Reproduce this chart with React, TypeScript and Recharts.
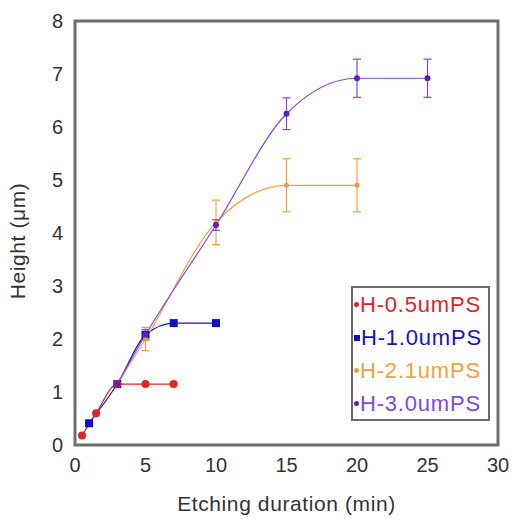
import React from 'react';
import {
  LineChart, Line, XAxis, YAxis, ErrorBar, ReferenceArea, Label,
} from 'recharts';

const redX = [0.5, 1.5, 3, 5, 7];
const redY = [0.18, 0.6, 1.15, 1.15, 1.15];

const blueX = [1, 3, 5, 7, 10];
const blueY = [0.41, 1.15, 2.08, 2.3, 2.3];

const orangeX = [3, 5, 10, 15, 20];
const orangeY = [1.15, 2.0, 4.2, 4.9, 4.9];
const orangeErr = [0, 0.22, 0.42, 0.5, 0.5];

const purpleX = [3, 5, 10, 15, 20, 25];
const purpleY = [1.15, 2.08, 4.15, 6.25, 6.92, 6.92];
const purpleErr = [0, 0.1, 0.1, 0.3, 0.36, 0.36];

const xTicks = [0, 5, 10, 15, 20, 25, 30];
const yTicks = [0, 1, 2, 3, 4, 5, 6, 7, 8];

const seriesNames = ['H-0.5umPS', 'H-1.0umPS', 'H-2.1umPS', 'H-3.0umPS'];
const colors = ['#e02424', '#1414c8', '#f2a040', '#8048e0'];
const markerColors = ['#e02424', '#1010c0', '#f09a30', '#5a20b8'];

const build = (xs: number[], ys: number[], errs?: number[]) =>
  xs.map((x, i) => ({ x, y: ys[i], err: errs ? errs[i] : 0 }));

const redData = build(redX, redY);
const blueData = build(blueX, blueY);
const orangeData = build(orangeX, orangeY, orangeErr);
const purpleData = build(purpleX, purpleY, purpleErr);

const FONT = '"Liberation Sans", Arial, sans-serif';

const circleDot = (r: number, fill: string) => (props: any) => {
  const { cx, cy, index } = props;
  if (cx == null || cy == null) return <g key={index} />;
  return <circle key={index} cx={cx} cy={cy} r={r} fill={fill} stroke="none" />;
};

const squareDot = (s: number, fill: string) => (props: any) => {
  const { cx, cy, index } = props;
  if (cx == null || cy == null) return <g key={index} />;
  return <rect key={index} x={cx - s / 2} y={cy - s / 2} width={s} height={s} fill={fill} stroke="none" />;
};

const LegendBox = () => (
  <div
    style={{
      position: 'absolute',
      left: 351,
      top: 286,
      width: 134,
      height: 131,
      border: '2px solid #6a6a6a',
      background: '#fff',
      padding: '0 0 0 1px',
      fontFamily: FONT,
      fontSize: 22,
      letterSpacing: 0.8,
      lineHeight: '33px',
      whiteSpace: 'nowrap',
    }}
  >
    {seriesNames.map((n, i) => (
      <div key={n} style={{ color: colors[i], display: 'flex', alignItems: 'center', height: 33 }}>
        <span
          style={{
            display: 'inline-block',
            width: i === 1 ? 6 : 5,
            height: i === 1 ? 6 : 5,
            borderRadius: i === 1 ? 0 : '50%',
            background: markerColors[i],
            marginRight: 1,
          }}
        />
        {n}
      </div>
    ))}
  </div>
);

export default function App() {
  return (
    <div style={{ position: 'absolute', left: 0, top: 0, width: 514, height: 519, background: '#fff' }}>
      <LineChart
        width={514}
        height={519}
        margin={{ top: 21, right: 16, bottom: 0, left: 0 }}
        style={{ fontFamily: FONT }}
      >
        <XAxis
          dataKey="x"
          type="number"
          domain={[0, 30]}
          ticks={xTicks}
          allowDuplicatedCategory={false}
          height={74}
          tickSize={0}
          tickMargin={13}
          axisLine={false}
          tickLine={false}
          tick={{ fontSize: 20, fill: '#333' }}
        >
          <Label value="Etching duration (min)" position="insideBottom" offset={8} style={{ fontSize: 21, fill: '#333', letterSpacing: 0.6 }} />
        </XAxis>
        <YAxis
          type="number"
          domain={[0, 8]}
          ticks={yTicks}
          width={75}
          tickSize={0}
          tickMargin={12}
          axisLine={false}
          tickLine={false}
          tick={{ fontSize: 20, fill: '#333' }}
        >
          <Label value="Height (μm)" angle={-90} position="center" dx={-20} dy={8} style={{ fontSize: 21, fill: '#333', textAnchor: 'middle', letterSpacing: 0.6 }} />
        </YAxis>
        <ReferenceArea x1={0} x2={30} y1={0} y2={8} fill="none" stroke="#6e6e6e" strokeWidth={3} ifOverflow="visible" />

        <Line
          data={blueData}
          dataKey="y"
          name={seriesNames[1]}
          type="monotone"
          stroke={colors[1]}
          strokeWidth={1.2}
          dot={squareDot(8, markerColors[1])}
          isAnimationActive={false}
        />
        <Line
          data={redData}
          dataKey="y"
          name={seriesNames[0]}
          type="monotone"
          stroke={colors[0]}
          strokeWidth={1.2}
          dot={circleDot(4, markerColors[0])}
          isAnimationActive={false}
        />
        <Line
          data={orangeData}
          dataKey="y"
          name={seriesNames[2]}
          type="monotone"
          stroke={colors[2]}
          strokeWidth={1.2}
          dot={circleDot(2.5, markerColors[2])}
          isAnimationActive={false}
        >
          <ErrorBar dataKey="err" width={4} stroke={colors[2]} strokeWidth={1.2} direction="y" />
        </Line>
        <Line
          data={purpleData}
          dataKey="y"
          name={seriesNames[3]}
          type="monotone"
          stroke={colors[3]}
          strokeWidth={1.2}
          dot={circleDot(3, markerColors[3])}
          isAnimationActive={false}
        >
          <ErrorBar dataKey="err" width={4} stroke={colors[3]} strokeWidth={1.2} direction="y" />
        </Line>
      </LineChart>
      <LegendBox />
    </div>
  );
}
